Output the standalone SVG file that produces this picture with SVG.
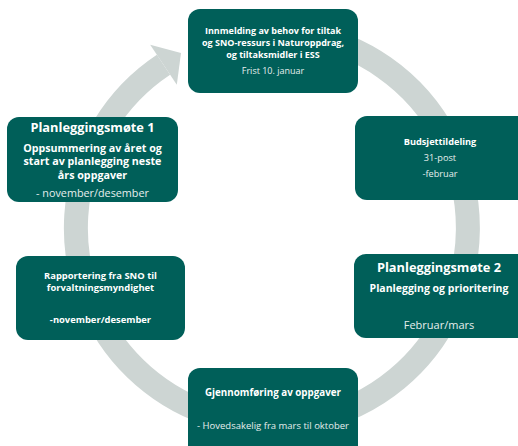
<svg xmlns="http://www.w3.org/2000/svg" width="518" height="446" viewBox="0 0 518 446">
<style>
.box{fill:#005F59}
.t{font-family:"Open Sans","Liberation Sans",sans-serif;fill:#ffffff;text-anchor:middle}
.b{font-weight:bold}
.r{font-weight:normal;fill:#e6eeed}
.ring{fill:none;stroke:#CDD5D3;stroke-width:24}
</style>
<rect width="518" height="446" fill="#ffffff"/>
<g id="connectors">
<path class="ring" d="M306,35 A196,196 0 1 1 163.5,64.7"/>
<polygon points="181,53 150.2,44.7 176.8,84.7" fill="#CDD5D3"/>
</g>
<g id="node-innmelding">
<rect class="box" x="188" y="9" width="170" height="84" rx="12"/>
<text class="t b" font-size="9" x="273" y="34">Innmelding av behov for tiltak</text>
<text class="t b" font-size="9" x="273" y="45.7">og SNO-ressurs i Naturoppdrag,</text>
<text class="t b" font-size="9" x="273" y="57.7">og tiltaksmidler i ESS</text>
<text class="t r" font-size="9" x="273" y="73.5">Frist 10. januar</text>
</g>
<g id="node-budsjett">
<rect class="box" x="355" y="116" width="175" height="84" rx="12"/>
<text class="t b" font-size="9.2" x="440" y="144.5">Budsjettildeling</text>
<text class="t r" font-size="9.2" x="440" y="160.5">31-post</text>
<text class="t r" font-size="9.2" x="440" y="177">-februar</text>
</g>
<g id="node-pm2">
<rect class="box" x="354" y="254" width="176" height="84" rx="12"/>
<text class="t b" font-size="12.8" x="439" y="271.5">Planleggingsmøte 2</text>
<text class="t b" font-size="10.5" x="439" y="292">Planlegging og prioritering</text>
<text class="t r" font-size="11" x="439" y="328.5">Februar/mars</text>
</g>
<g id="node-gjennomforing">
<rect class="box" x="188" y="368" width="170" height="90" rx="12"/>
<text class="t b" font-size="9.8" x="273" y="395.5">Gjennomføring av oppgaver</text>
<text class="t r" font-size="9.5" x="273" y="428.5">- Hovedsakelig fra mars til oktober</text>
</g>
<g id="node-rapportering">
<rect class="box" x="16" y="256" width="169" height="84" rx="12"/>
<text class="t b" font-size="9.4" x="100.5" y="278.5">Rapportering fra SNO til</text>
<text class="t b" font-size="9.4" x="100.5" y="290.5">forvaltningsmyndighet</text>
<text class="t b" font-size="9.4" x="100.5" y="322.5">-november/desember</text>
</g>
<g id="node-pm1">
<rect class="box" x="7" y="117" width="171" height="85" rx="12"/>
<text class="t b" font-size="12.8" x="92.5" y="132">Planleggingsmøte 1</text>
<text class="t b" font-size="10.7" x="92.5" y="151.5">Oppsummering av året og</text>
<text class="t b" font-size="10.7" x="92.5" y="165.2">start av planlegging neste</text>
<text class="t b" font-size="10.7" x="92.5" y="179">års oppgaver</text>
<text class="t r" font-size="10.8" x="92.5" y="197">- november/desember</text>
</g>
</svg>
